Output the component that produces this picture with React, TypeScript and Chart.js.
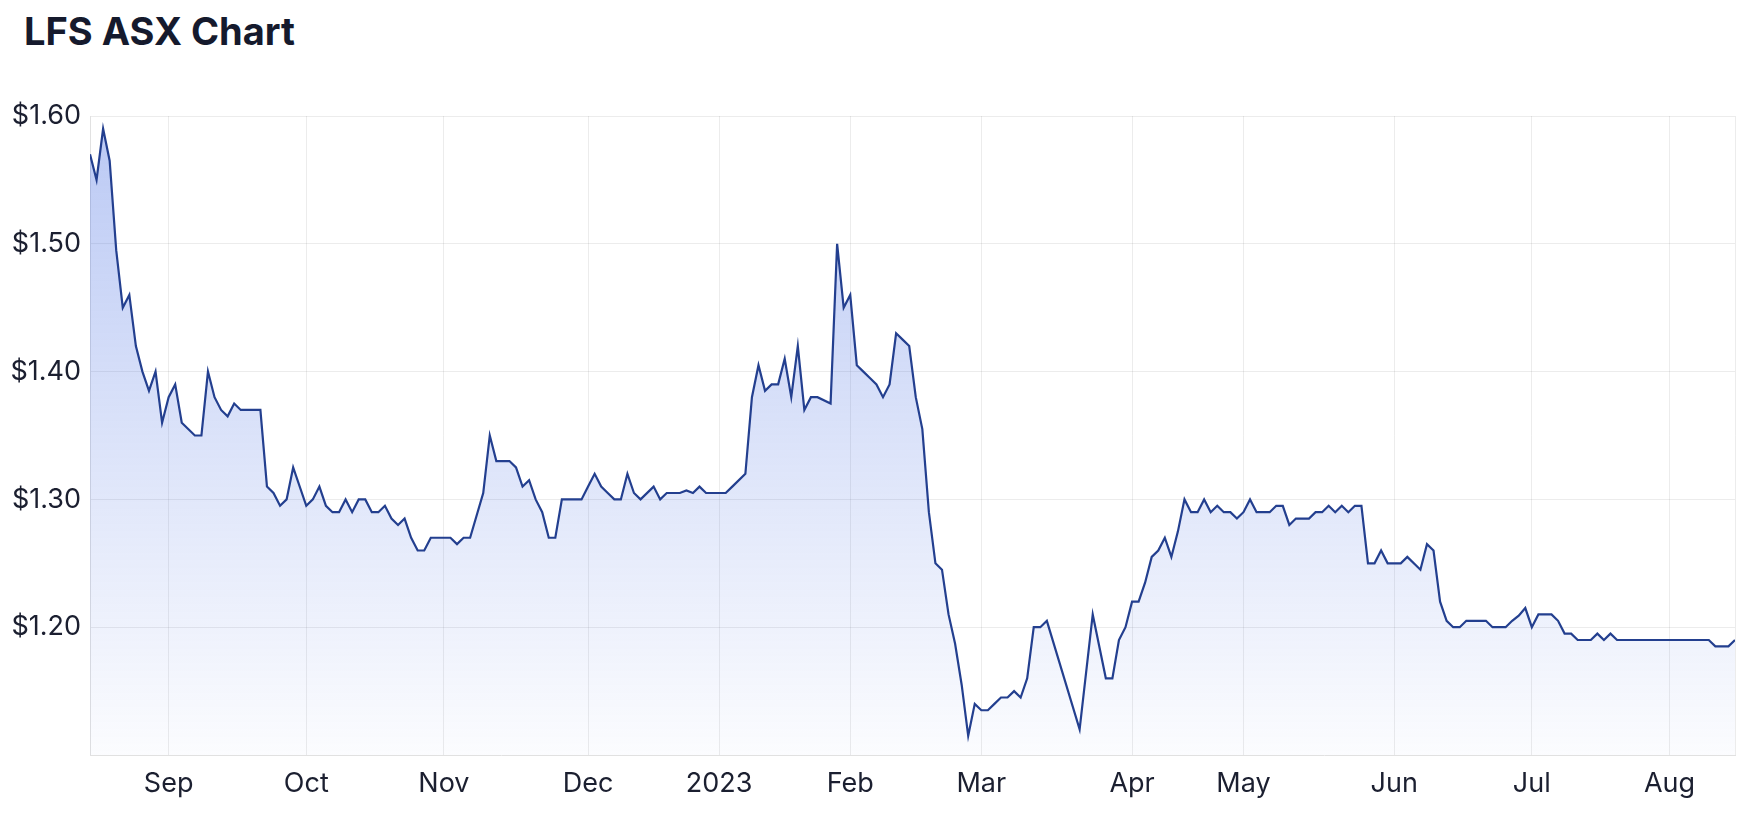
import React, { useEffect, useRef } from "react";
import { Chart, registerables } from "chart.js";

Chart.register(...registerables);

// Trading-day index (0 = first trading day shown) of each vertex of the price line
const dayIndex = [
  0, 1, 2, 3, 4, 5, 6, 7, 8, 9, 10, 11, 12, 13, 14, 16, 17, 18, 19, 20, 21, 22, 23, 26, 27, 28, 29, 30, 31, 33,
  34, 35, 36, 37, 38, 39, 40, 41, 42, 43, 44, 45, 46, 47, 48, 49, 50, 51, 52, 55, 56, 57, 58, 60, 61, 62, 64, 65,
  66, 67, 68, 69, 70, 71, 72, 75, 76, 77, 78, 79, 80, 81, 82, 83, 84, 86, 87, 88, 90, 91, 92, 93, 94, 97, 98, 100,
  101, 102, 103, 104, 105, 106, 107, 108, 109, 110, 111, 113, 114, 115, 116, 117, 118, 119, 120, 121, 122, 123,
  124, 125, 126, 127, 128, 129, 130, 131, 132, 133, 134, 135, 136, 137, 138, 139, 140, 141, 142, 143, 144, 145,
  146, 151, 153, 155, 156, 157, 158, 159, 160, 161, 162, 163, 164, 165, 166, 167, 168, 169, 170, 171, 172, 173,
  174, 175, 176, 177, 178, 180, 181, 182, 183, 184, 186, 187, 188, 189, 190, 191, 192, 193, 194, 195, 196, 197,
  198, 200, 201, 203, 204, 205, 206, 207, 208, 209, 210, 213, 214, 216, 217, 218, 219, 220, 221, 223, 224, 225,
  226, 227, 229, 230, 231, 232, 233, 247, 248, 250, 251,
];

// Closing price (AUD) at each vertex
const prices = [
  1.57, 1.55, 1.59, 1.565, 1.495, 1.45, 1.46, 1.42, 1.4, 1.385, 1.4, 1.36, 1.38, 1.39, 1.36, 1.35, 1.35, 1.4, 1.38,
  1.37, 1.365, 1.375, 1.37, 1.37, 1.31, 1.305, 1.295, 1.3, 1.325, 1.295,
  1.3, 1.31, 1.295, 1.29, 1.29, 1.3, 1.29, 1.3, 1.3, 1.29, 1.29, 1.295, 1.285, 1.28, 1.285, 1.27, 1.26, 1.26, 1.27,
  1.27, 1.265, 1.27, 1.27, 1.305, 1.35, 1.33, 1.33, 1.325,
  1.31, 1.315, 1.3, 1.29, 1.27, 1.27, 1.3, 1.3, 1.31, 1.32, 1.31, 1.305, 1.3, 1.3, 1.32, 1.305, 1.3, 1.31, 1.3,
  1.305, 1.305, 1.307, 1.305, 1.31, 1.305, 1.305, 1.31, 1.32,
  1.38, 1.405, 1.385, 1.39, 1.39, 1.41, 1.38, 1.42, 1.37, 1.38, 1.38, 1.375, 1.5, 1.45, 1.46, 1.405, 1.4, 1.395,
  1.39, 1.38, 1.39, 1.43,
  1.425, 1.42, 1.38, 1.355, 1.29, 1.25, 1.245, 1.21, 1.187, 1.155, 1.115, 1.14, 1.135, 1.135, 1.14, 1.145, 1.145,
  1.15, 1.145, 1.16, 1.2, 1.2,
  1.205, 1.12, 1.21, 1.16, 1.16, 1.19, 1.2, 1.22, 1.22, 1.235, 1.255, 1.26, 1.27, 1.255, 1.275, 1.3, 1.29, 1.29,
  1.3, 1.29, 1.295, 1.29,
  1.29, 1.285, 1.29, 1.3, 1.29, 1.29, 1.295, 1.295, 1.28, 1.285, 1.285, 1.29, 1.29, 1.295, 1.29, 1.295, 1.29,
  1.295, 1.295, 1.25, 1.25, 1.26,
  1.25, 1.25, 1.255, 1.245, 1.265, 1.26, 1.22, 1.205, 1.2, 1.2, 1.205, 1.205, 1.2, 1.2, 1.205, 1.209, 1.215, 1.2,
  1.21, 1.21, 1.205, 1.195,
  1.195, 1.19, 1.19, 1.195, 1.19, 1.195, 1.19, 1.19, 1.185, 1.185, 1.19,
];

const lastDayIndex = 251;

// Month tick labels and the trading-day index where each month starts
const monthTickIndex = [12, 33, 54, 76, 96, 116, 136, 159, 176, 199, 220, 241];
const monthTickLabels = ["Sep", "Oct", "Nov", "Dec", "2023", "Feb", "Mar", "Apr", "May", "Jun", "Jul", "Aug"];

// Price axis ticks
const priceTicks = [1.2, 1.3, 1.4, 1.5, 1.6];
const priceMin = 1.1;
const priceMax = 1.6;

const FONT = "Inter, 'Noto Sans', 'DejaVu Sans', sans-serif";
const TEXT_COLOR = "#1b1f30";
const GRID_COLOR = "rgba(0,0,0,0.075)";
const BORDER_COLOR = "#e1e1e1";

export default function App() {
  const canvasRef = useRef<HTMLCanvasElement | null>(null);

  useEffect(() => {
    const canvas = canvasRef.current;
    if (!canvas) return;
    const points = dayIndex.map((x, i) => ({ x, y: prices[i] }));

    const chart = new Chart(canvas, {
      type: "line",
      data: {
        datasets: [
          {
            label: "LFS",
            data: points,
            borderColor: "#233f8f",
            borderWidth: 2.2,
            pointRadius: 0,
            pointHoverRadius: 0,
            tension: 0,
            fill: "start",
            backgroundColor: (ctx: any) => {
              const { chart } = ctx;
              const area = chart.chartArea;
              if (!area) return "rgba(65,105,225,0.2)";
              const g = chart.ctx.createLinearGradient(0, area.top, 0, area.bottom);
              g.addColorStop(0, "rgba(65,105,225,0.36)");
              g.addColorStop(1, "rgba(65,105,225,0.02)");
              return g;
            },
          },
        ],
      },
      options: {
        animation: false,
        responsive: true,
        maintainAspectRatio: false,
        layout: { padding: { top: 116, right: 11, left: 0, bottom: 0 } },
        plugins: {
          legend: { display: false },
          tooltip: { enabled: false },
          title: { display: false },
        },
        scales: {
          x: {
            type: "linear",
            min: 0,
            max: lastDayIndex,
            afterBuildTicks: (scale: any) => {
              scale.ticks = [...monthTickIndex.map((v) => ({ value: v })), { value: lastDayIndex }];
            },
            afterFit: (scale: any) => {
              scale.height = 75;
            },
            ticks: {
              autoSkip: false,
              maxRotation: 0,
              padding: 13,
              color: TEXT_COLOR,
              font: { family: FONT, size: 27 },
              callback: (value: any) => {
                const k = monthTickIndex.indexOf(Number(value));
                return k >= 0 ? monthTickLabels[k] : "";
              },
            },
            grid: { color: GRID_COLOR, drawTicks: false },
            border: { color: BORDER_COLOR },
          },
          y: {
            type: "linear",
            min: priceMin,
            max: priceMax,
            afterBuildTicks: (scale: any) => {
              scale.ticks = priceTicks.map((v) => ({ value: v }));
            },
            afterFit: (scale: any) => {
              scale.width = 90;
            },
            ticks: {
              padding: 9,
              color: TEXT_COLOR,
              font: { family: FONT, size: 27 },
              callback: (value: any) => "$" + Number(value).toFixed(2),
            },
            grid: { color: GRID_COLOR, drawTicks: false },
            border: { color: BORDER_COLOR },
          },
        },
      },
    });
    return () => chart.destroy();
  }, []);

  return (
    <div style={{ position: "absolute", left: 0, top: 0, width: 1748, height: 830, background: "#fff" }}>
      <div
        style={{
          position: "absolute",
          left: 24,
          top: 12,
          fontFamily: FONT,
          fontWeight: 700,
          fontSize: 38,
          lineHeight: 1,
          color: "#151a2d",
          whiteSpace: "nowrap",
        }}
      >
        LFS ASX Chart
      </div>
      <canvas ref={canvasRef} style={{ position: "absolute", left: 0, top: 0, width: 1748, height: 830 }} />
    </div>
  );
}
